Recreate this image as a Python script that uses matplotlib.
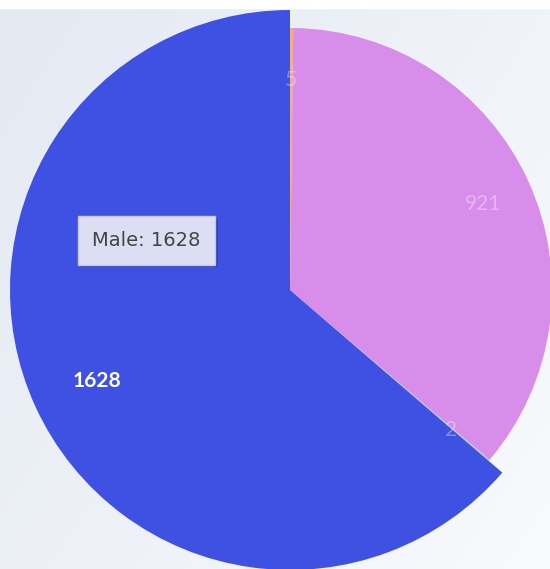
import matplotlib

matplotlib.use("Agg")
import matplotlib.patheffects as pe
import matplotlib.pyplot as plt
import numpy as np
from matplotlib.colors import LinearSegmentedColormap

# data, clockwise from 12 o'clock
categories = ["Unknown", "Female", "Other", "Male"]
counts = [5, 921, 2, 1628]
colors = ["#f2ac88", "#d88deb", "#9fd8c8", "#3f51e2"]
highlight = "Male"

W, H = 550, 569
CX, CY = 290, 290  # pie centre in pixels (from top-left)
R = 262  # pie radius in pixels
LIM = 1.1

fig = plt.figure(figsize=(W / 100, H / 100), dpi=100)

# soft gradient backdrop
bg = fig.add_axes([0, 0, 1, 1])
bg.axis("off")
yy, xx = np.mgrid[0:1:200j, 0:1:200j]
grad = xx * 0.6 + yy * 0.4
cmap = LinearSegmentedColormap.from_list("bg", ["#e4e9f2", "#f8fafd"])
bg.imshow(grad, cmap=cmap, extent=[0, 1, 0, 1], origin="upper", aspect="auto")
bg.axhspan(1 - 8 / H, 1, color="white")
bg.set_xlim(0, 1)
bg.set_ylim(0, 1)

side = 2 * LIM * R
ax = fig.add_axes([(CX - side / 2) / W, (H - CY - side / 2) / H, side / W, side / H])
ax.axis("off")

total = sum(counts)
wedges, _, autotexts = ax.pie(
    counts,
    colors=colors,
    startangle=90,
    counterclock=False,
    labels=[""] * len(counts),
    autopct=lambda p: f"{round(p * total / 100)}",
    pctdistance=0.81,
    wedgeprops={"linewidth": 0},
    textprops={"family": "Lato", "fontsize": 15},
)
ax.set_xlim(-LIM, LIM)
ax.set_ylim(-LIM, LIM)

for name, w, t in zip(categories, wedges, autotexts):
    t.set_va("center_baseline")
    if name == highlight:
        w.set_radius(280 / R)
        t.set_color("white")
        t.set_fontweight("bold")
    else:
        t.set_color((1, 1, 1, 0.35))

# hover tooltip
i = categories.index(highlight)
tip = fig.text(
    146.5 / W, 1 - 240.5 / H,
    f"{highlight}: {counts[i]}",
    ha="center", va="center", fontsize=14, color="#444444", family="DejaVu Sans",
    bbox={"boxstyle": "square,pad=0.75", "facecolor": "#dcdff3", "edgecolor": "#c4c8ea", "linewidth": 1},
)
tip.get_bbox_patch().set_path_effects(
    [pe.withSimplePatchShadow(offset=(2, -2), shadow_rgbFace="#2a3590", alpha=0.6)]
)

fig.savefig("out.png", dpi=100)
